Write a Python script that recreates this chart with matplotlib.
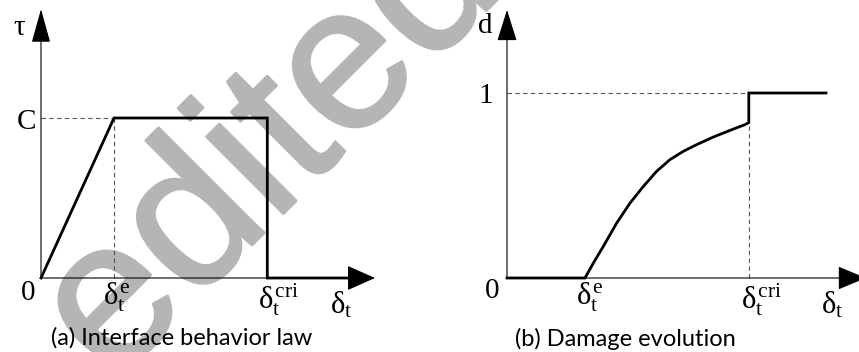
import matplotlib
matplotlib.use("Agg")
import matplotlib.pyplot as plt
import matplotlib.patheffects as pe

plt.rcParams['mathtext.fontset'] = 'custom'
plt.rcParams['mathtext.rm'] = 'Liberation Serif'
plt.rcParams['mathtext.it'] = 'Liberation Serif'
plt.rcParams['mathtext.bf'] = 'Liberation Serif'

# characteristic slips (delta_t) and levels
delta_e = 1.0
delta_cri = 3.1
C = 1.0

# (a) bilinear-then-plateau interface law
law_delta = [0.0, delta_e, delta_cri, delta_cri, 4.23]
law_tau = [0.0, C, C, 0.0, 0.0]

# (b) damage variable vs slip
dmg_delta = [0.0, 1.000, 1.107, 1.235, 1.406, 1.577, 1.748, 1.919, 2.090,
             2.261, 2.432, 2.645, 2.859, 3.051, delta_cri, delta_cri, 4.09]
dmg_d = [0.0, 0.0, 0.081, 0.171, 0.297, 0.405, 0.495, 0.577, 0.640,
         0.685, 0.721, 0.762, 0.798, 0.829, 0.840, 1.0, 1.0]

W, H = 859, 352
fig = plt.figure(figsize=(W / 100, H / 100), dpi=100)

serif = 'Liberation Serif'
lab = dict(family=serif, fontsize=21, color='black', annotation_clip=False)
cap = dict(family='Lato', fontsize=17, color='black', ha='center', va='center')


def axis_arrow(ax, tip, hl, hw):
    ax.annotate('', xy=tip, xytext=(0, 0), annotation_clip=False,
                arrowprops=dict(arrowstyle='-|>,head_length=%g,head_width=%g' % (hl, hw),
                                mutation_scale=1, lw=0.8, color='black',
                                shrinkA=0, shrinkB=0))


def delta_label(ax, x, sup, dx=-10):
    ax.annotate(r'$\delta_{\mathrm{t}}^{\mathrm{%s}}$' % sup, xy=(x, 0),
                xytext=(dx, -3), textcoords='offset pixels', annotation_clip=False,
                ha='left', va='top', fontsize=22)


# ---- (a) Interface behavior law
ax = fig.add_axes([0, 0, 430 / W, 1])
ax.set_xlim(-41 / 73, 389 / 73)
ax.set_ylim(-74 / 160, 278 / 160)
ax.set_facecolor('none')
ax.axis('off')

axis_arrow(ax, (4.575, 0), 18, 8)
axis_arrow(ax, (0, 1.68), 21.5, 6.0)
ax.plot([0, delta_e], [C, C], ls=(0, (4, 3)), lw=0.8, color='#555555')
ax.plot([delta_e, delta_e], [0, C], ls=(0, (4, 3)), lw=0.8, color='#555555')
ax.plot(law_delta, law_tau, color='black', lw=2.0, solid_joinstyle='miter')

ax.annotate('τ', xy=(0, 1.68), xytext=(-22, -19), textcoords='offset pixels',
            ha='center', va='center', **lab)
ax.annotate('C', xy=(0, C), xytext=(-14, -4), textcoords='offset pixels',
            ha='center', va='center', **lab)
ax.annotate('0', xy=(0, 0), xytext=(-13, -15), textcoords='offset pixels',
            ha='center', va='center', **lab)
delta_label(ax, delta_e, 'e', -11)
delta_label(ax, delta_cri, 'cri', -9)
ax.annotate(r'$\delta_{\mathrm{t}}$', xy=(4.575, 0), xytext=(-45, -12),
            textcoords='offset pixels', ha='left', va='top', fontsize=22,
            annotation_clip=False)
ax.text(182 / 430, 14 / H, '(a) Interface behavior law', transform=ax.transAxes, **cap)

# ---- (b) Damage evolution
bx = fig.add_axes([430 / W, 0, 429 / W, 1])
bx.set_xlim(-77 / 78, 352 / 78)
bx.set_ylim(-74 / 185, 278 / 185)
bx.set_facecolor('none')
bx.axis('off')

axis_arrow(bx, (4.6, 0), 18, 7.5)
axis_arrow(bx, (0, 1.449), 20, 6.3)
bx.plot([0, delta_cri], [1, 1], ls=(0, (4, 3)), lw=0.8, color='#555555')
bx.plot([delta_cri, delta_cri], [0, dmg_d[14]], ls=(0, (4, 3)), lw=0.8, color='#555555')
bx.plot(dmg_delta, dmg_d, color='black', lw=2.0, solid_joinstyle='miter')

bx.annotate('d', xy=(0, 1.449), xytext=(-22, -16), textcoords='offset pixels',
            ha='center', va='center', **lab)
bx.annotate('1', xy=(0, 1), xytext=(-21, -3), textcoords='offset pixels',
            ha='center', va='center', **lab)
bx.annotate('0', xy=(0, 0), xytext=(-15, -13), textcoords='offset pixels',
            ha='center', va='center', **lab)
delta_label(bx, delta_e, 'e', -9)
delta_label(bx, delta_cri, 'cri', -8)
bx.annotate(r'$\delta_{\mathrm{t}}$', xy=(4.6, 0), xytext=(-45, -12),
            textcoords='offset pixels', ha='left', va='top', fontsize=22,
            annotation_clip=False)
bx.text(195 / 429, 13 / H, '(b) Damage evolution', transform=bx.transAxes, **cap)

# watermark behind everything
fig.text(112 / W, 1 - 385 / H, 'edited', family='Liberation Sans', fontsize=148,
         color='#b5b5b5', rotation=45, rotation_mode='anchor',
         ha='left', va='baseline', zorder=-1,
         path_effects=[pe.withStroke(linewidth=2, foreground='#b5b5b5')])

fig.savefig('out.png', dpi=100, facecolor='white')
